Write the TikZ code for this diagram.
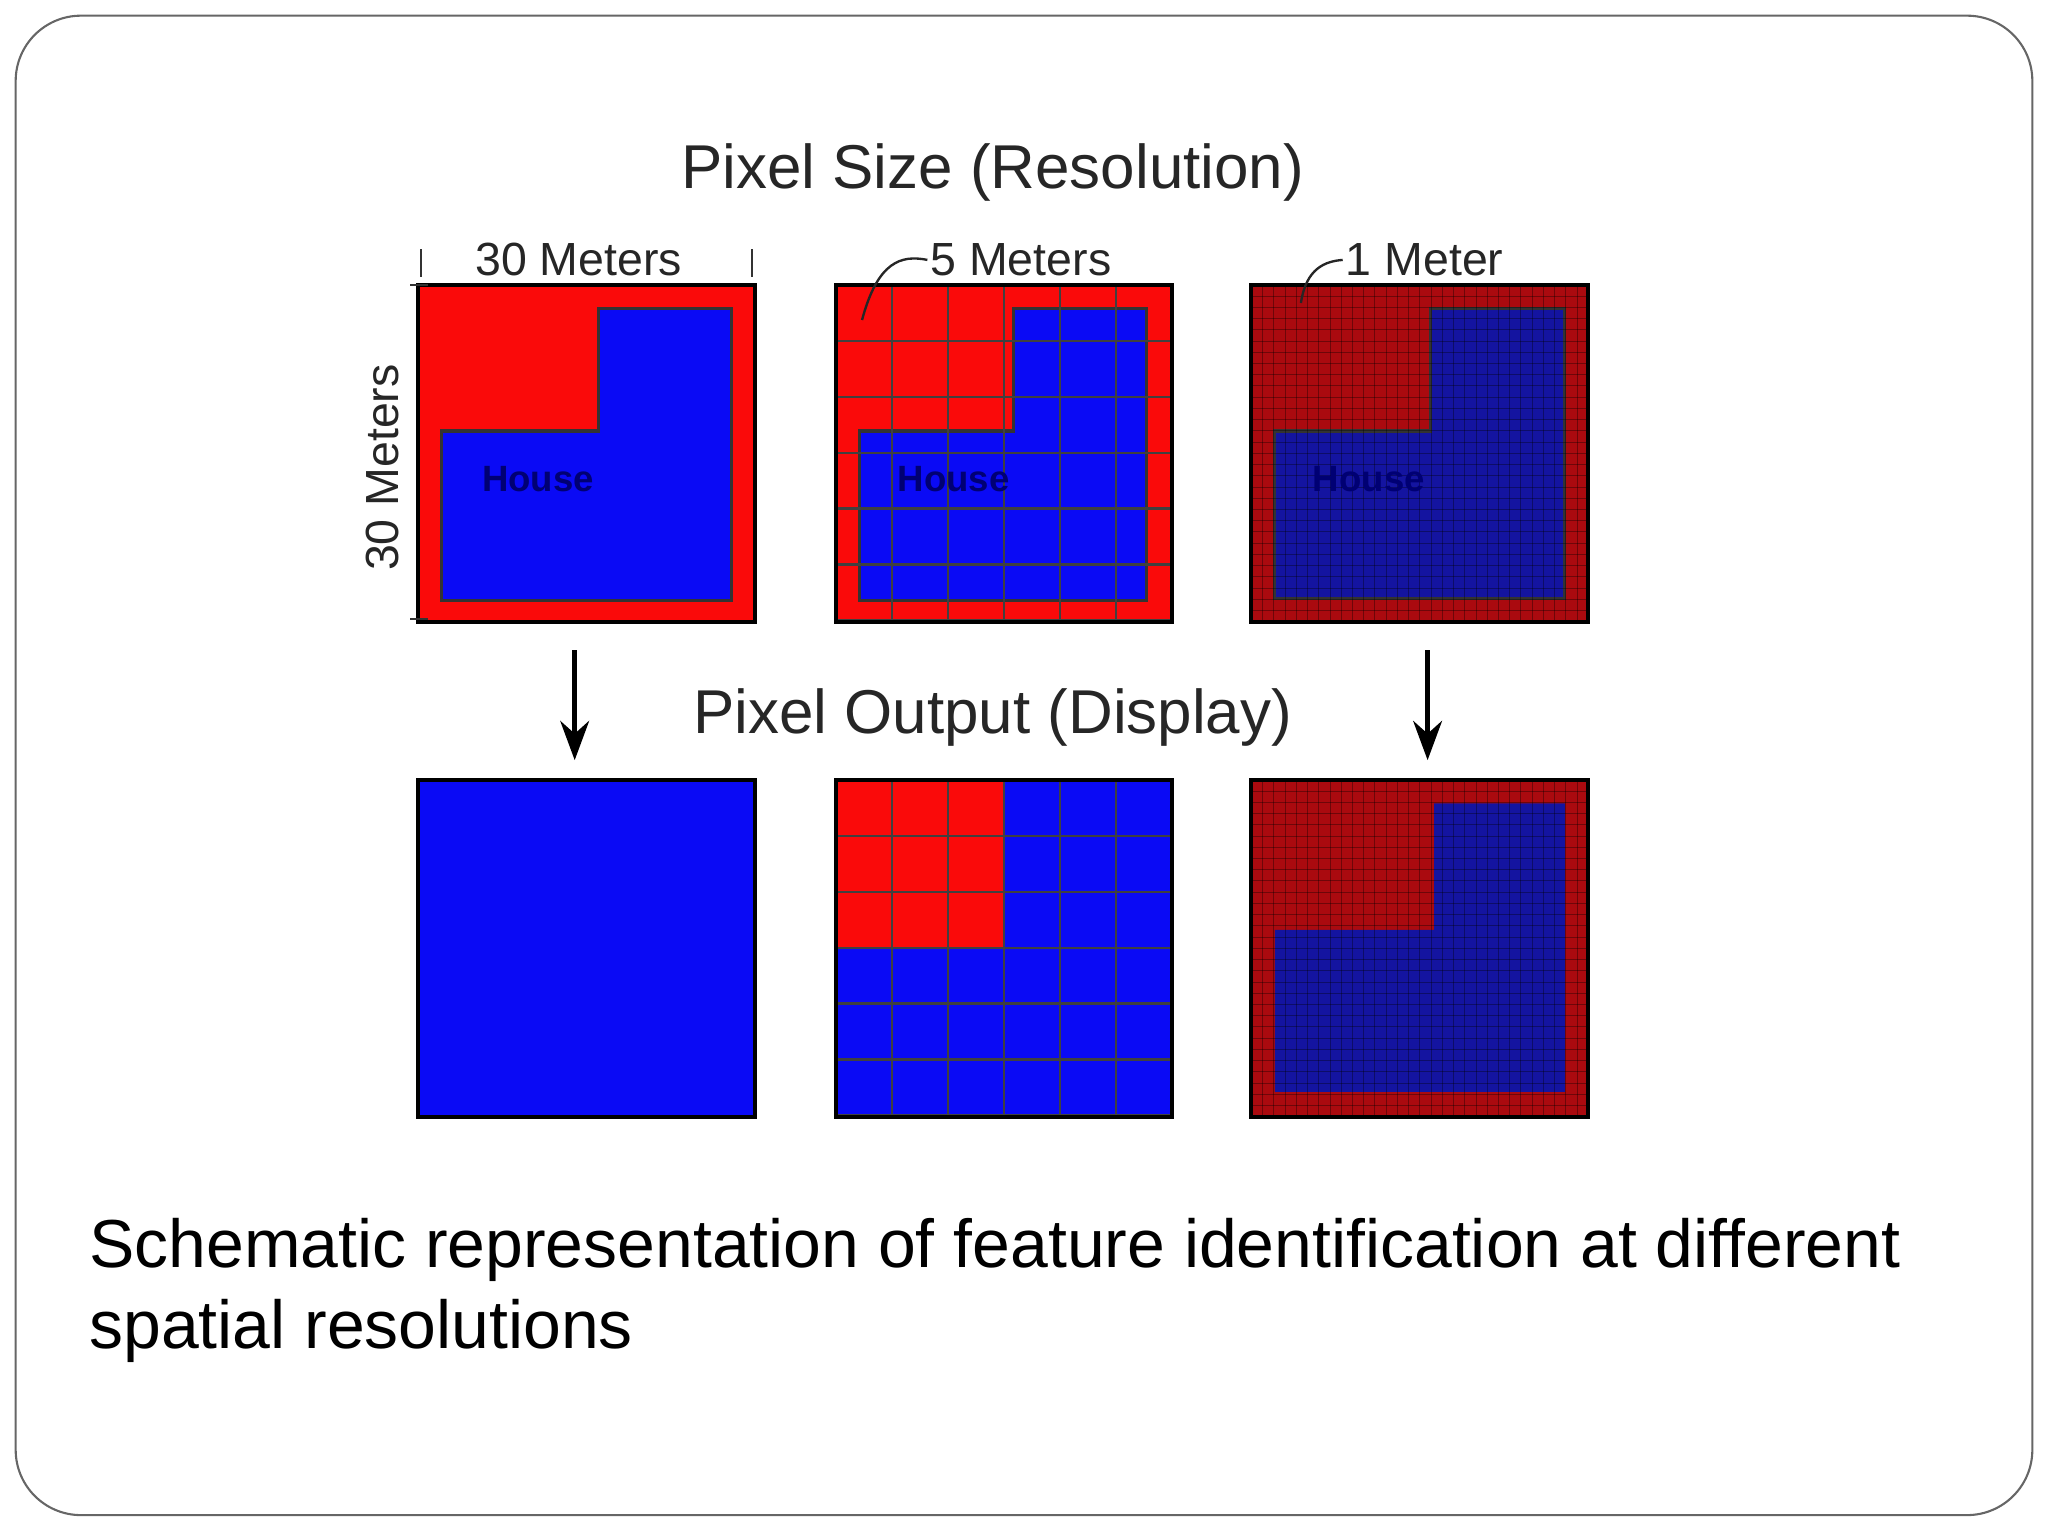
\documentclass[tikz,border=0pt]{standalone}
\usepackage{fontspec}
\setmainfont{Liberation Sans}
\usetikzlibrary{arrows.meta}
\definecolor{rd}{RGB}{250,10,10}
\definecolor{bl}{RGB}{10,10,245}
\definecolor{drd}{RGB}{170,10,15}
\definecolor{dbl}{RGB}{20,20,160}
\newcommand{\pxgrid}[5]{% x0 y0 size n style
  \foreach \i in {1,...,#4}{
    \draw[#5] ({#1+\i*#3/#4},#2) -- ({#1+\i*#3/#4},{#2+#3});
    \draw[#5] (#1,{#2+\i*#3/#4}) -- ({#1+#3},{#2+\i*#3/#4});
  }}
\begin{document}
\begin{tikzpicture}[x=0.5pt,y=-0.5pt,
  box/.style={draw=black,line width=1.6pt},
  lsh/.style={draw=black!80,line width=1.2pt},
  lbl/.style={font=\fontsize{17.8}{20}\selectfont,text=black!85},
  ttl/.style={font=\fontsize{23.7}{26}\selectfont,text=black!85},
  hs/.style={font=\bfseries\fontsize{14}{16}\selectfont,text=blue!45!black},
  coarse/.style={black!75,line width=0.8pt},
  fine/.style={black,opacity=0.35,line width=0.3pt},
  arr/.style={line width=2pt,-{Stealth[length=15pt,width=11pt]}}]
\useasboundingbox (0,0) rectangle (1568,1176);
\draw[black!60,line width=0.8pt,rounded corners=25pt] (12,12) rectangle (1556,1160);
% top row
\fill[rd] (320,218) rectangle (578,476);
\filldraw[bl,lsh] (458,236)--(560,236)--(560,460)--(338,460)--(338,330)--(458,330)--cycle;
\draw[box] (320,218) rectangle (578,476);
\node[hs] (h1) at (412,367) {House};
\fill[rd] (640,218) rectangle (897,476);
\filldraw[bl,lsh] (776,236)--(878,236)--(878,460)--(658,460)--(658,330)--(776,330)--cycle;
\pxgrid{640}{218}{257}{6}{coarse}
\draw[box] (640,218) rectangle (897,476);
\node[hs] (h2) at (730,367) {House};
\fill[drd] (958,218) rectangle (1216,476);
\filldraw[dbl,lsh] (1095,236)--(1198,236)--(1198,458)--(976,458)--(976,330)--(1095,330)--cycle;
\pxgrid{958}{218}{258}{30}{fine}
\draw[box] (958,218) rectangle (1216,476);
\node[hs] (h3) at (1048,367) {House};
% bottom row
\fill[bl] (320,597) rectangle (578,855);
\draw[box] (320,597) rectangle (578,855);
\fill[bl] (640,597) rectangle (897,855);
\fill[rd] (640,597) rectangle (768.5,726);
\pxgrid{640}{597}{257}{6}{coarse}
\draw[box] (640,597) rectangle (897,855);
\fill[drd] (958,597) rectangle (1216,855);
\fill[dbl] (1098,615)--(1198,615)--(1198,836)--(976,836)--(976,712)--(1098,712)--cycle;
\pxgrid{958}{597}{258}{30}{fine}
\draw[box] (958,597) rectangle (1216,855);
% labels
\node[ttl] (t1) at (760,132) {Pixel Size (Resolution)};
\node[ttl] (t2) at (760,549) {Pixel Output (Display)};
\node[lbl] (m30) at (443,199) {30 Meters};
\draw[black!80,line width=0.8pt] (322,191)--(322,212) (576,191)--(576,212);
\node[lbl,rotate=90] (v30) at (293,358) {30 Meters};
\draw[black!80,line width=0.8pt] (314,218)--(328,218) (314,474)--(328,474);
\node[lbl,anchor=west,inner sep=1pt] (m5) at (710,199) {5 Meters};
\coordinate (p5) at (660,245);
\draw[black!85,line width=0.9pt] (m5.west) .. controls (690,195) and (672,200) .. (p5);
\node[lbl,anchor=west,inner sep=1pt] (m1) at (1028,199) {1 Meter};
\coordinate (p1) at (996,232);
\draw[black!85,line width=0.9pt] (m1.west) .. controls (1015,200) and (1000,205) .. (p1);
\coordinate (a1s) at (440,498); \coordinate (a1e) at (440,582);
\coordinate (a2s) at (1093,498); \coordinate (a2e) at (1093,582);
\draw[arr] (a1s)--(a1e);
\draw[arr] (a2s)--(a2e);
\node[anchor=north west,align=left,font=\fontsize{26}{31}\selectfont,inner sep=0] (cap) at (68,932) {Schematic representation of feature identification at different\\spatial resolutions};
\end{tikzpicture}
\end{document}
